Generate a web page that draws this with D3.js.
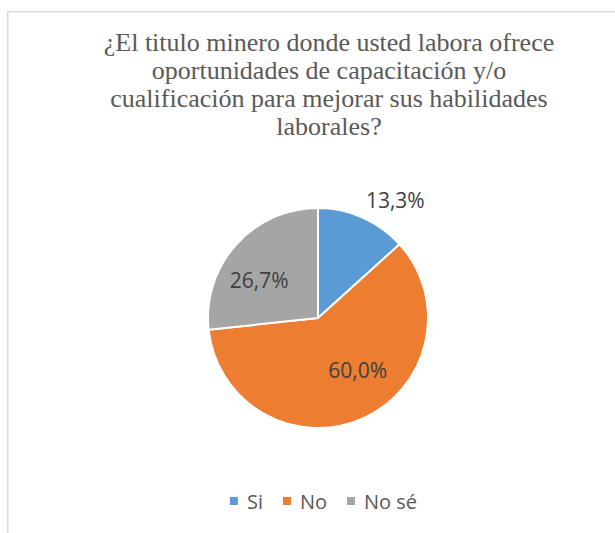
<!DOCTYPE html>
<html>
<head>
<meta charset="utf-8">
<script src="https://cdn.jsdelivr.net/npm/d3@7"></script>
<style>
  body { margin: 0; background: #fff; }
  svg { display: block; }
  text.title { font-family: "Liberation Serif", "Times New Roman", Times, "DejaVu Serif", serif; }
  .sans { font-family: "Open Sans", sans-serif; }
</style>
</head>
<body>
<svg id="pieChart" width="615" height="533"></svg>
<script>
const titleLines = [
  "¿El titulo minero donde usted labora ofrece",
  "oportunidades de capacitación y/o",
  "cualificación para mejorar sus habilidades",
  "laborales?"
];
const categories = ["Si", "No", "No sé"];
const values = [13.3, 60.0, 26.7];
const colors = ["#5B9BD5", "#ED7D31", "#A5A5A5"];

function drawPieChart() {
  const svg = d3.select("#pieChart");
  svg.selectAll("*").remove();

  const cx = 318, cy = 318, radius = 110;

  // chart area border (cropped on right and bottom)
  svg.append("rect")
    .attr("x", 7.75)
    .attr("y", 11.75)
    .attr("width", 700)
    .attr("height", 600)
    .attr("fill", "none")
    .attr("stroke", "#d9d9d9")
    .attr("stroke-width", 1.5);

  svg.append("g")
    .selectAll("text")
    .data(titleLines)
    .join("text")
    .attr("class", "title")
    .attr("x", 329)
    .attr("y", (d, i) => 51 + i * 28)
    .attr("text-anchor", "middle")
    .attr("font-size", 26)
    .attr("fill", "#595959")
    .text(d => d);

  const data = categories.map((c, i) => ({ category: c, value: values[i] }));

  const color = d3.scaleOrdinal()
    .domain(categories)
    .range(colors);

  const pie = d3.pie()
    .sort(null)
    .value(d => d.value);

  const arc = d3.arc()
    .innerRadius(0)
    .outerRadius(radius);

  const arcs = pie(data);

  const g = svg.append("g")
    .attr("transform", `translate(${cx},${cy})`);

  g.selectAll("path")
    .data(arcs)
    .join("path")
    .attr("d", arc)
    .attr("fill", d => color(d.data.category))
    .attr("stroke", "#fff")
    .attr("stroke-width", 2)
    .attr("stroke-linejoin", "round");

  // labels: small slices go outside (box corner touching the rim), others inside
  const fmt = v => v.toFixed(1).replace(".", ",") + "%";
  const labels = g.selectAll("text.label")
    .data(arcs)
    .join("text")
    .attr("class", "label sans")
    .attr("text-anchor", "middle")
    .attr("dominant-baseline", "central")
    .attr("font-size", 21)
    .attr("fill", "#404040")
    .text(d => fmt(d.data.value));

  labels.each(function(d) {
    const t = d3.select(this);
    const a = (d.startAngle + d.endAngle) / 2;
    if (d.endAngle - d.startAngle < 1) {
      const bb = this.getBBox();
      const r = radius + 8;
      const px = r * Math.sin(a), py = -r * Math.cos(a);
      t.attr("x", px + Math.sign(Math.sin(a)) * bb.width / 2)
       .attr("y", py - Math.sign(Math.cos(a)) * bb.height / 2 + 4);
    } else {
      // nudge a little counter-clockwise, like the original's best fit
      const [x, y] = d3.arc().innerRadius(radius * 0.62).outerRadius(radius * 0.62)
        .startAngle(a - 0.2).endAngle(a - 0.2).centroid();
      t.attr("x", x).attr("y", y - 3);
    }
  });

  // legend
  const legend = svg.append("g")
    .attr("class", "sans")
    .attr("font-size", 20)
    .attr("fill", "#595959");

  const items = legend.selectAll("g")
    .data(categories)
    .join("g");

  items.append("rect")
    .attr("y", 497)
    .attr("width", 8)
    .attr("height", 8)
    .attr("fill", d => color(d));

  items.append("text")
    .attr("x", 17)
    .attr("y", 509)
    .text(d => d);

  let offset = 0;
  const widths = [];
  items.each(function() {
    const w = d3.select(this).select("text").node().getComputedTextLength() + 17;
    widths.push(w);
  });
  const gap = 20;
  const total = d3.sum(widths) + gap * (widths.length - 1);
  const start = 323.5 - total / 2;
  items.attr("transform", (d, i) => {
    const x = start + offset;
    offset += widths[i] + gap;
    return `translate(${x},0)`;
  });
}

drawPieChart();
</script>
</body>
</html>
